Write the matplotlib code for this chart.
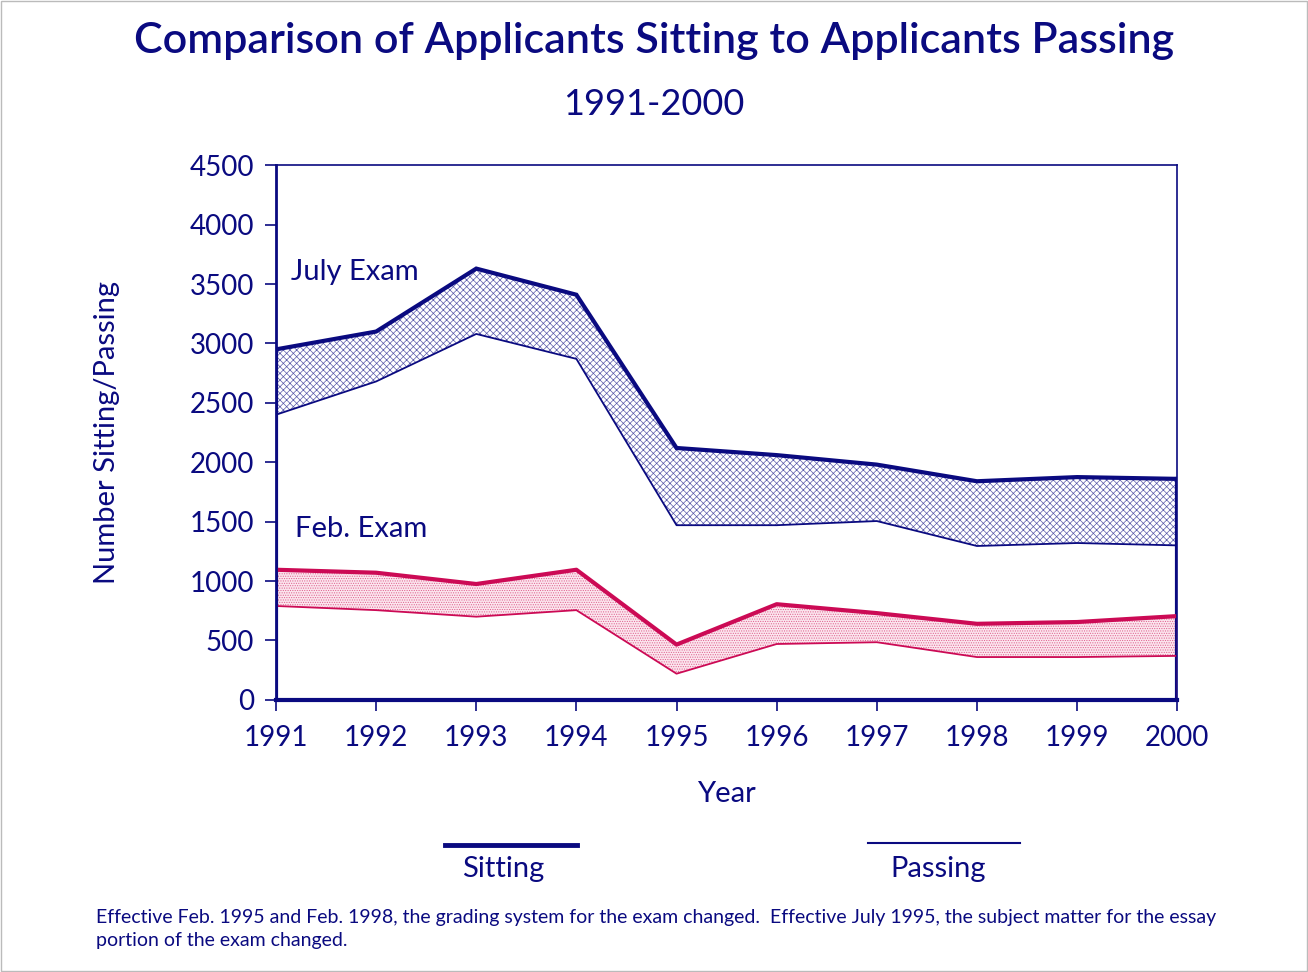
import matplotlib.pyplot as plt
from matplotlib.lines import Line2D

## data
years = [1991, 1992, 1993, 1994, 1995, 1996, 1997, 1998, 1999, 2000]
july_sitting = [2950, 3100, 3630, 3410, 2120, 2060, 1980, 1840, 1875, 1860]
july_passing = [2400, 2680, 3080, 2870, 1470, 1470, 1505, 1295, 1320, 1300]
feb_sitting = [1095, 1070, 975, 1095, 465, 805, 730, 640, 655, 705]
feb_passing = [790, 755, 700, 755, 220, 470, 485, 360, 360, 370]

navy = '#0a0a80'
pink = '#cc0a55'

plt.rcParams['font.family'] = ['Lato', 'DejaVu Sans']
plt.rcParams['hatch.linewidth'] = 0.5

fig = plt.figure(figsize=(13.08, 9.72), dpi=100)
ax = fig.add_axes([0.211, 0.280, 0.689, 0.550])

## july band
ax.fill_between(years, july_passing, july_sitting, facecolor='white',
                edgecolor='#5a5aaa', hatch='xxxxx', linewidth=0)
ax.plot(years, july_sitting, color=navy, lw=3, solid_joinstyle='miter')
ax.plot(years, july_passing, color=navy, lw=1.3)
ax.plot([years[0], years[0]], [0, july_sitting[0]], color=navy, lw=3)
ax.plot([years[-1], years[-1]], [0, july_sitting[-1]], color=navy, lw=3)

## feb band
ax.fill_between(years, feb_passing, feb_sitting, facecolor='#fbe6ee',
                edgecolor='#e0608f', hatch='.......', linewidth=0)
ax.plot(years, feb_sitting, color=pink, lw=3)
ax.plot(years, feb_passing, color=pink, lw=1.3)
ax.plot([years[-1], years[-1]], [0, feb_sitting[-1]], color=pink, lw=2)

ax.set_xlim(1991, 2000)
ax.set_ylim(0, 4500)
ax.set_xticks(years)
ax.set_yticks(range(0, 4501, 500))
ax.tick_params(colors=navy, labelcolor=navy, labelsize=20, length=8, width=1.2)
ax.tick_params(axis='x', pad=10)
ax.tick_params(axis='y', pad=8)
for s in ax.spines.values():
    s.set_color(navy)
    s.set_linewidth(1.2)
ax.spines['bottom'].set_linewidth(3)
ax.spines['left'].set_linewidth(2)

ax.text(1991.15, 3600, 'July Exam', color=navy, fontsize=21, va='center')
ax.text(1991.19, 1440, 'Feb. Exam', color=navy, fontsize=21, va='center')

ax.set_xlabel('Year', color=navy, fontsize=21, labelpad=22)
ax.set_ylabel('Number Sitting/Passing', color=navy, fontsize=21, labelpad=50)

fig.text(0.5, 0.958, 'Comparison of Applicants Sitting to Applicants Passing',
         color=navy, fontsize=31, fontweight='semibold', ha='center', va='center')
fig.text(0.5, 0.892, '1991-2000', color=navy, fontsize=26, ha='center', va='center')

## legend under the chart
fig.add_artist(Line2D([445/1308, 577/1308], [1-845/972, 1-845/972], color=navy, lw=3.5))
fig.add_artist(Line2D([868/1308, 1020/1308], [1-843/972, 1-843/972], color=navy, lw=1.5))
fig.text(503/1308, 1-869/972, 'Sitting', color=navy, fontsize=21, ha='center', va='center')
fig.text(938/1308, 1-869/972, 'Passing', color=navy, fontsize=21, ha='center', va='center')

fig.text(96/1308, 1-929/972,
         'Effective Feb. 1995 and Feb. 1998, the grading system for the exam changed.  '
         'Effective July 1995, the subject matter for the essay\nportion of the exam changed.',
         color=navy, fontsize=14, ha='left', va='center', linespacing=1.45,
         family=['Liberation Sans Narrow', 'Lato', 'DejaVu Sans'])

fig.add_artist(plt.Rectangle((0.001, 0.001), 0.998, 0.998, transform=fig.transFigure,
                             fill=False, edgecolor='#bbbbbb', lw=1))

plt.savefig('out.png', dpi=100)
